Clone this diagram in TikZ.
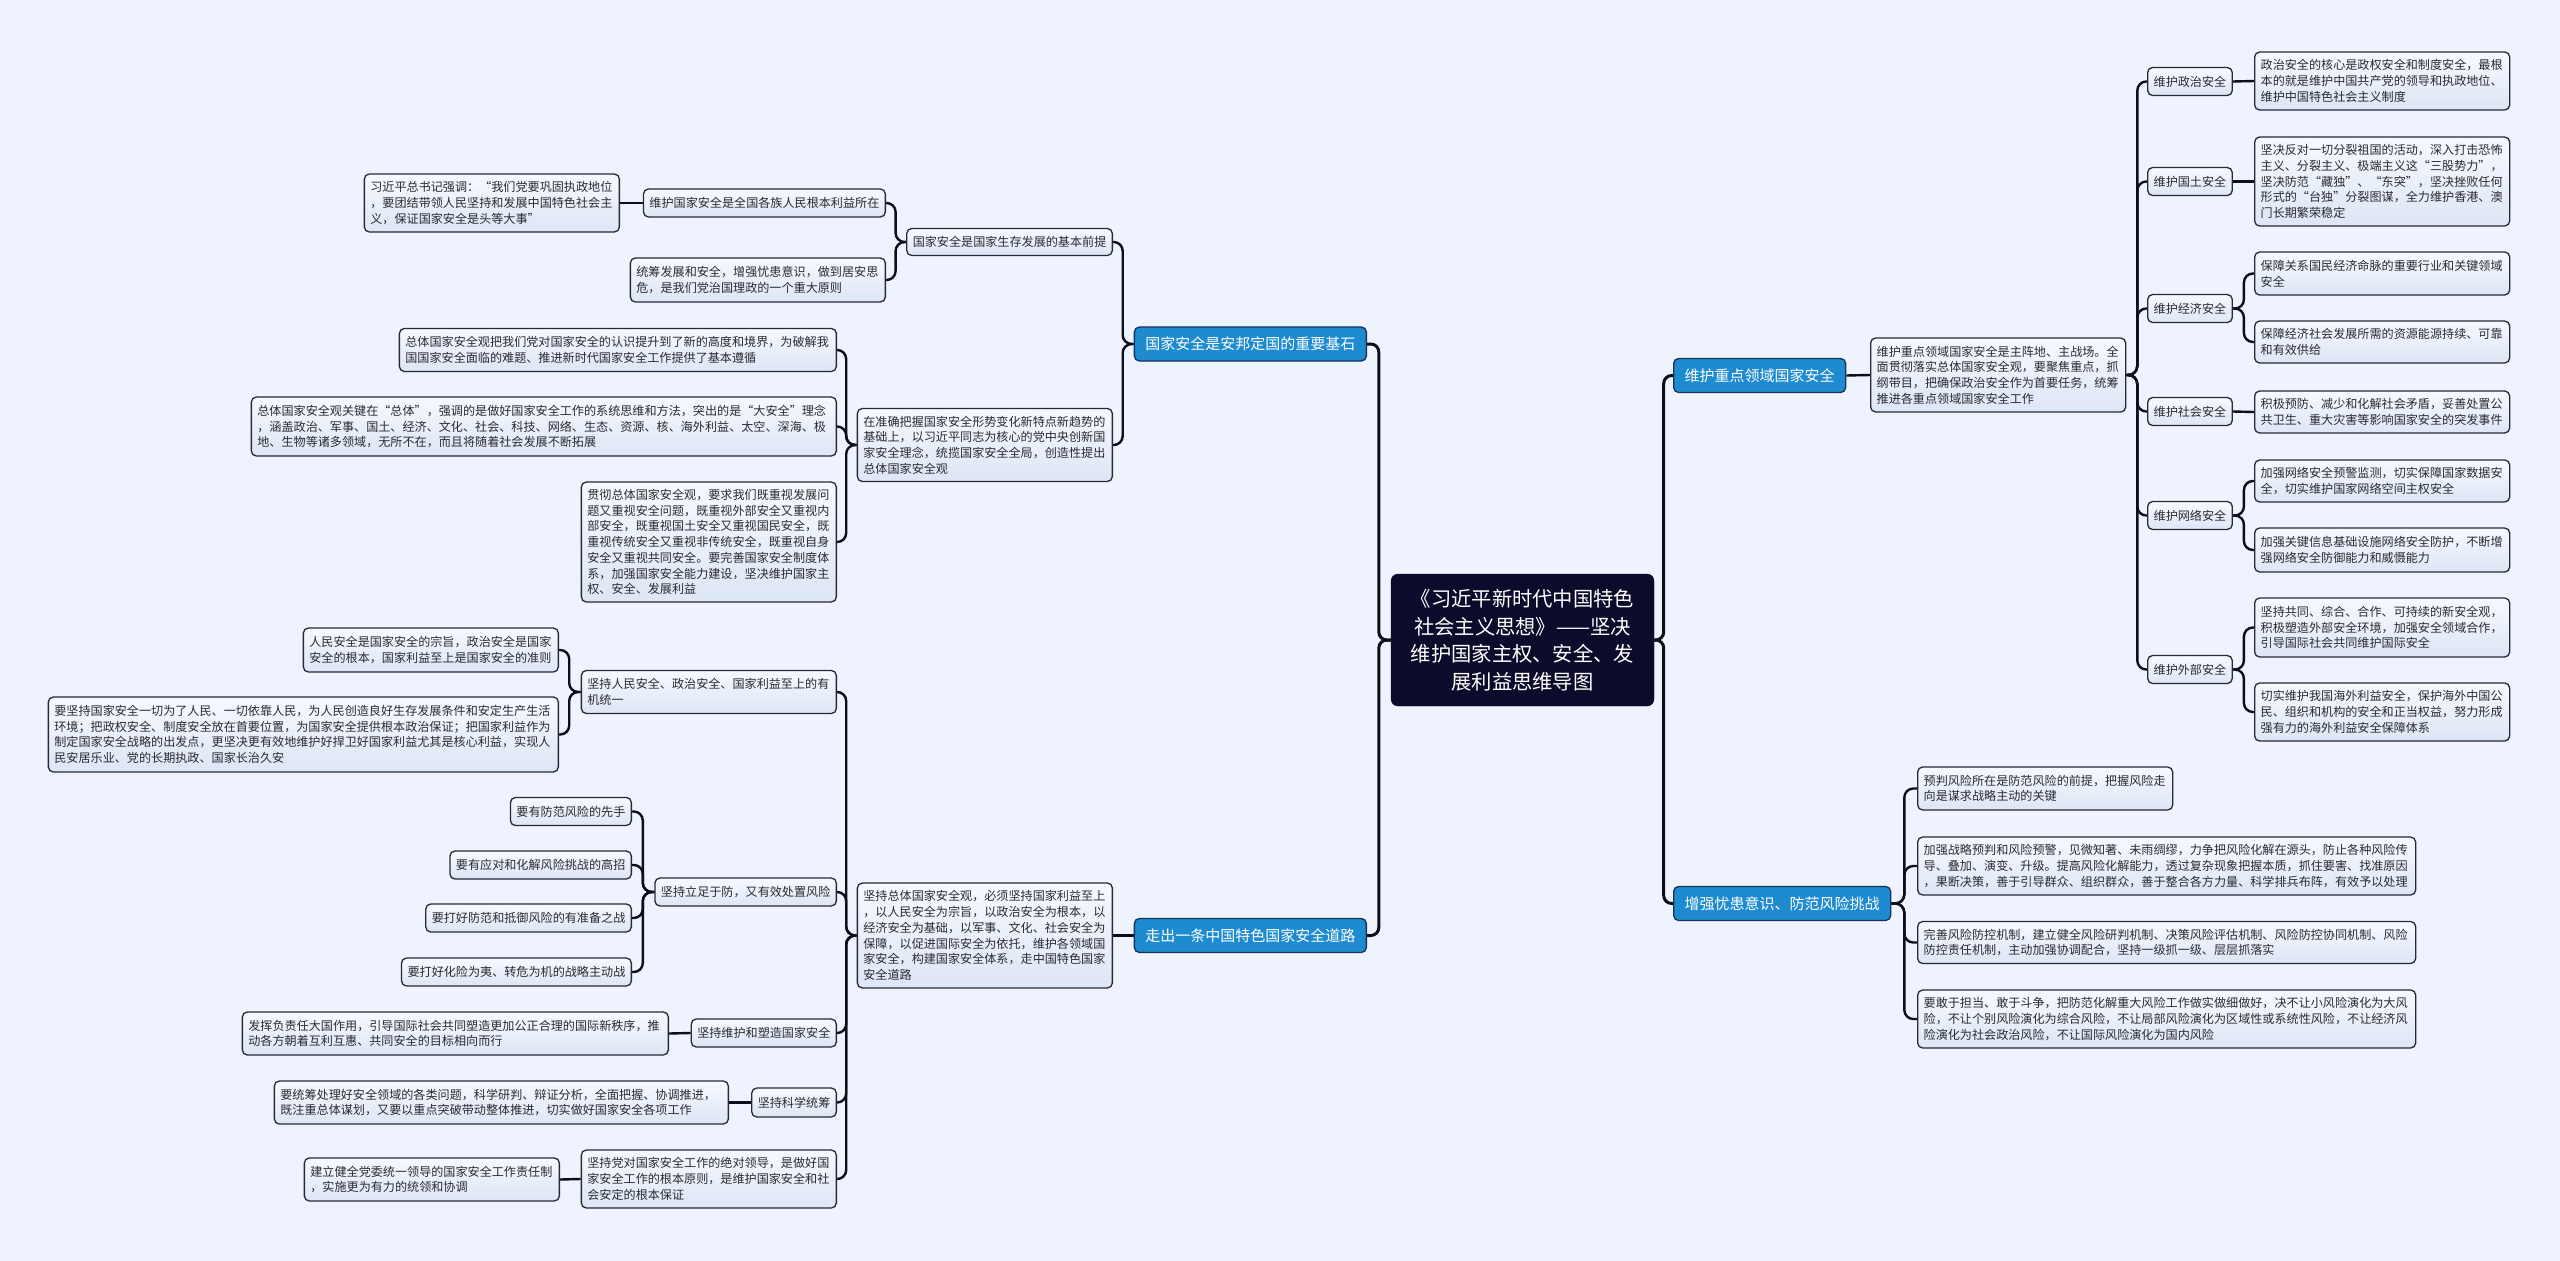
\documentclass[tikz,border=0pt]{standalone}
\usepackage{fontspec}
\setmainfont{Noto Sans CJK SC}
\pgfdeclarelayer{background}
\pgfsetlayers{background,main}
\definecolor{bgc}{RGB}{238,243,253}
\definecolor{leaftop}{RGB}{246,249,254}
\definecolor{leafbot}{RGB}{221,230,246}
\definecolor{edgec}{RGB}{40,40,54}
\definecolor{txtc}{RGB}{42,42,48}
\definecolor{l1c}{RGB}{30,139,208}
\definecolor{l1edge}{RGB}{20,50,90}
\definecolor{rootc}{RGB}{13,11,43}
\definecolor{linec}{RGB}{14,14,24}
\tikzset{
  leaf/.style={draw=edgec, line width=1.3pt, rounded corners=5pt, top color=leaftop, bottom color=leafbot,
    text=txtc, inner xsep=6pt, inner ysep=0pt, align=left, font=\fontsize{12.1pt}{15.7pt}\selectfont},
  lL/.style={leaf, anchor=east},
  lR/.style={leaf, anchor=west},
  l1/.style={draw=l1edge, line width=1.3pt, rounded corners=5pt, fill=l1c, text=white,
    inner xsep=11pt, inner ysep=0pt, minimum height=34pt, font=\fontsize{15pt}{18pt}\selectfont},
  rootbox/.style={draw=rootc, fill=rootc, rounded corners=7pt, text=white, align=center,
    minimum width=263pt, minimum height=132pt, inner sep=0pt, font=\fontsize{20.3pt}{27.5pt}\selectfont},
  conn/.style={draw=linec, line width=2.4pt, rounded corners=9pt},
  connR/.style={draw=linec, line width=3pt, rounded corners=8pt}
}
\begin{document}
\begin{tikzpicture}[x=1pt,y=-1pt]
\useasboundingbox (0,0) rectangle (2560,1261);
\begin{pgfonlayer}{background}
\fill[bgc] (0,0) rectangle (2560,1261);
\end{pgfonlayer}

% root
\node[rootbox] (root) at (1522.5,640) {《习近平新时代中国特色\\社会主义思想》——坚决\\维护国家主权、安全、发\\展利益思维导图};

% ---------- left: level 1
\node[l1, anchor=east] (L1a) at (1367,344) {国家安全是安邦定国的重要基石};
\node[l1, anchor=east] (L1b) at (1367,935.5) {走出一条中国特色国家安全道路};

% branch A
\node[lL, minimum height=27pt] (A1) at (1113,242) {国家安全是国家生存发展的基本前提};
\node[lL, minimum height=28pt] (A1a) at (886,203) {维护国家安全是全国各族人民根本利益所在};
\node[lL, text width=243pt, minimum height=58pt] (A1a1) at (620,203) {习近平总书记强调：“我们党要巩固执政地位\\，要团结带领人民坚持和发展中国特色社会主\\义，保证国家安全是头等大事”};
\node[lL, text width=243pt, minimum height=44pt] (A1b) at (886,280) {统筹发展和安全，增强忧患意识，做到居安思\\危，是我们党治国理政的一个重大原则};
\node[lL, text width=243pt, minimum height=73pt] (A2) at (1113,445) {在准确把握国家安全形势变化新特点新趋势的\\基础上，以习近平同志为核心的党中央创新国\\家安全理念，统揽国家安全全局，创造性提出\\总体国家安全观};
\node[lL, text width=425pt, minimum height=43pt] (A2a) at (837,350) {总体国家安全观把我们党对国家安全的认识提升到了新的高度和境界，为破解我\\国国家安全面临的难题、推进新时代国家安全工作提供了基本遵循};
\node[lL, text width=573pt, minimum height=59pt] (A2b) at (837,426.5) {总体国家安全观关键在“总体”，强调的是做好国家安全工作的系统思维和方法，突出的是“大安全”理念\\，涵盖政治、军事、国土、经济、文化、社会、科技、网络、生态、资源、核、海外利益、太空、深海、极\\地、生物等诸多领域，无所不在，而且将随着社会发展不断拓展};
\node[lL, text width=243pt, minimum height=120pt] (A2c) at (837,542) {贯彻总体国家安全观，要求我们既重视发展问\\题又重视安全问题，既重视外部安全又重视内\\部安全，既重视国土安全又重视国民安全，既\\重视传统安全又重视非传统安全，既重视自身\\安全又重视共同安全。要完善国家安全制度体\\系，加强国家安全能力建设，坚决维护国家主\\权、安全、发展利益};

% branch B
\node[lL, text width=243pt, minimum height=105pt] (B0) at (1113,935.5) {坚持总体国家安全观，必须坚持国家利益至上\\，以人民安全为宗旨，以政治安全为根本，以\\经济安全为基础，以军事、文化、社会安全为\\保障，以促进国际安全为依托，维护各领域国\\家安全，构建国家安全体系，走中国特色国家\\安全道路};
\node[lL, text width=243pt, minimum height=43pt] (B1) at (837,692) {坚持人民安全、政治安全、国家利益至上的有\\机统一};
\node[lL, text width=243pt, minimum height=44pt] (B1a) at (559,650) {人民安全是国家安全的宗旨，政治安全是国家\\安全的根本，国家利益至上是国家安全的准则};
\node[lL, text width=498pt, minimum height=75pt] (B1b) at (559,734.5) {要坚持国家安全一切为了人民、一切依靠人民，为人民创造良好生存发展条件和安定生产生活\\环境；把政权安全、制度安全放在首要位置，为国家安全提供根本政治保证；把国家利益作为\\制定国家安全战略的出发点，更坚决更有效地维护好捍卫好国家利益尤其是核心利益，实现人\\民安居乐业、党的长期执政、国家长治久安};
\node[lL, minimum height=28pt] (B2) at (837,892) {坚持立足于防，又有效处置风险};
\node[lL, minimum height=28pt] (B2a) at (632,811.5) {要有防范风险的先手};
\node[lL, minimum height=28pt] (B2b) at (632,865) {要有应对和化解风险挑战的高招};
\node[lL, minimum height=28pt] (B2c) at (632,918) {要打好防范和抵御风险的有准备之战};
\node[lL, minimum height=28pt] (B2d) at (632,972) {要打好化险为夷、转危为机的战略主动战};
\node[lL, minimum height=28pt] (B3) at (837,1033) {坚持维护和塑造国家安全};
\node[lL, text width=414pt, minimum height=43pt] (B3a) at (669,1033.5) {发挥负责任大国作用，引导国际社会共同塑造更加公正合理的国际新秩序，推\\动各方朝着互利互惠、共同安全的目标相向而行};
\node[lL, minimum height=29pt] (B4) at (837,1102.5) {坚持科学统筹};
\node[lL, text width=442pt, minimum height=43pt] (B4a) at (729,1102.5) {要统筹处理好安全领域的各类问题，科学研判、辩证分析，全面把握、协调推进，\\既注重总体谋划，又要以重点突破带动整体推进，切实做好国家安全各项工作};
\node[lL, text width=243pt, minimum height=58pt] (B5) at (837,1179) {坚持党对国家安全工作的绝对领导，是做好国\\家安全工作的根本原则，是维护国家安全和社\\会安定的根本保证};
\node[lL, text width=243pt, minimum height=43pt] (B5a) at (560,1179.5) {建立健全党委统一领导的国家安全工作责任制\\，实施更为有力的统领和协调};

% ---------- right: level 1
\node[l1, anchor=west] (L1c) at (1673,375.5) {维护重点领域国家安全};
\node[l1, anchor=west] (L1d) at (1673,903.5) {增强忧患意识、防范风险挑战};

% branch C
\node[lR, text width=243pt, minimum height=74pt] (C0) at (1870,375) {维护重点领域国家安全是主阵地、主战场。全\\面贯彻落实总体国家安全观，要聚焦重点，抓\\纲带目，把确保政治安全作为首要任务，统筹\\推进各重点领域国家安全工作};
\node[lR, minimum height=28pt] (C1) at (2147,81.5) {维护政治安全};
\node[lR, minimum height=28pt] (C2) at (2147,181.5) {维护国土安全};
\node[lR, minimum height=28pt] (C3) at (2147,308.5) {维护经济安全};
\node[lR, minimum height=28pt] (C4) at (2147,411.5) {维护社会安全};
\node[lR, minimum height=28pt] (C5) at (2147,515.5) {维护网络安全};
\node[lR, minimum height=28pt] (C6) at (2147,669.5) {维护外部安全};
\node[lR, text width=243pt, minimum height=58pt] (C1a) at (2254,81) {政治安全的核心是政权安全和制度安全，最根\\本的就是维护中国共产党的领导和执政地位、\\维护中国特色社会主义制度};
\node[lR, text width=243pt, minimum height=89pt] (C2a) at (2254,181.5) {坚决反对一切分裂祖国的活动，深入打击恐怖\\主义、分裂主义、极端主义这“三股势力”，\\坚决防范“藏独”、“东突”，坚决挫败任何\\形式的“台独”分裂图谋，全力维护香港、澳\\门长期繁荣稳定};
\node[lR, text width=243pt, minimum height=43pt] (C3a) at (2254,273.5) {保障关系国民经济命脉的重要行业和关键领域\\安全};
\node[lR, text width=243pt, minimum height=42pt] (C3b) at (2254,342) {保障经济社会发展所需的资源能源持续、可靠\\和有效供给};
\node[lR, text width=243pt, minimum height=42pt] (C4a) at (2254,412) {积极预防、减少和化解社会矛盾，妥善处置公\\共卫生、重大灾害等影响国家安全的突发事件};
\node[lR, text width=243pt, minimum height=42pt] (C5a) at (2254,481) {加强网络安全预警监测，切实保障国家数据安\\全，切实维护国家网络空间主权安全};
\node[lR, text width=243pt, minimum height=44pt] (C5b) at (2254,550) {加强关键信息基础设施网络安全防护，不断增\\强网络安全防御能力和威慑能力};
\node[lR, text width=243pt, minimum height=59pt] (C6a) at (2254,627.5) {坚持共同、综合、合作、可持续的新安全观，\\积极塑造外部安全环境，加强安全领域合作，\\引导国际社会共同维护国际安全};
\node[lR, text width=243pt, minimum height=58pt] (C6b) at (2254,712) {切实维护我国海外利益安全，保护海外中国公\\民、组织和机构的安全和正当权益，努力形成\\强有力的海外利益安全保障体系};

% branch D
\node[lR, text width=243pt, minimum height=43pt] (D1) at (1917,788.5) {预判风险所在是防范风险的前提，把握风险走\\向是谋求战略主动的关键};
\node[lR, text width=486pt, minimum height=58pt] (D2) at (1917,866) {加强战略预判和风险预警，见微知著、未雨绸缪，力争把风险化解在源头，防止各种风险传\\导、叠加、演变、升级。提高风险化解能力，透过复杂现象把握本质，抓住要害、找准原因\\，果断决策，善于引导群众、组织群众，善于整合各方力量、科学排兵布阵，有效予以处理};
\node[lR, text width=486pt, minimum height=42pt] (D3) at (1917,942.5) {完善风险防控机制，建立健全风险研判机制、决策风险评估机制、风险防控协同机制、风险\\防控责任机制，主动加强协调配合，坚持一级抓一级、层层抓落实};
\node[lR, text width=486pt, minimum height=58pt] (D4) at (1917,1019) {要敢于担当、敢于斗争，把防范化解重大风险工作做实做细做好，决不让小风险演化为大风\\险，不让个别风险演化为综合风险，不让局部风险演化为区域性或系统性风险，不让经济风\\险演化为社会政治风险，不让国际风险演化为国内风险};

% ---------- connectors
\begin{pgfonlayer}{background}
\draw[connR] (root.west) -- ++(-12,0) |- (L1a.east);
\draw[connR] (root.west) -- ++(-12,0) |- (L1b.east);
\draw[connR] (root.east) -- ++(9.5,0) |- (L1c.west);
\draw[connR] (root.east) -- ++(9.5,0) |- (L1d.west);

\foreach \c in {A1,A2} \draw[conn] (L1a.west) -- ++(-11,0) |- (\c.east);
\foreach \c in {A1a,A1b} \draw[conn] (A1.west) -- ++(-10.5,0) |- (\c.east);
\draw[conn] (A1a.west) -- (A1a1.east);
\foreach \c in {A2a,A2b,A2c} \draw[conn] (A2.west) -- ++(-10.5,0) |- (\c.east);

\draw[conn] (L1b.west) -- (B0.east);
\foreach \c in {B1,B2,B3,B4,B5} \draw[conn] (B0.west) -- ++(-10.5,0) |- (\c.east);
\foreach \c in {B1a,B1b} \draw[conn] (B1.west) -- ++(-11.5,0) |- (\c.east);
\foreach \c in {B2a,B2b,B2c,B2d} \draw[conn] (B2.west) -- ++(-11.5,0) |- (\c.east);
\draw[conn] (B3.west) -- (B3a.east);
\draw[conn] (B4.west) -- (B4a.east);
\draw[conn] (B5.west) -- (B5a.east);

\draw[conn] (L1c.east) -- (C0.west);
\foreach \c in {C1,C2,C3,C4,C5,C6} \draw[conn] (C0.east) -- ++(11,0) |- (\c.west);
\draw[conn] (C1.east) -- (C1a.west);
\draw[conn] (C2.east) -- (C2a.west);
\draw[conn] (C4.east) -- (C4a.west);
\foreach \c in {C3a,C3b} \draw[conn] (C3.east) -- ++(11,0) |- (\c.west);
\foreach \c in {C5a,C5b} \draw[conn] (C5.east) -- ++(11,0) |- (\c.west);
\foreach \c in {C6a,C6b} \draw[conn] (C6.east) -- ++(11,0) |- (\c.west);

\foreach \c in {D1,D2,D3,D4} \draw[conn] (L1d.east) -- ++(13,0) |- (\c.west);
\end{pgfonlayer}
\end{tikzpicture}
\end{document}
